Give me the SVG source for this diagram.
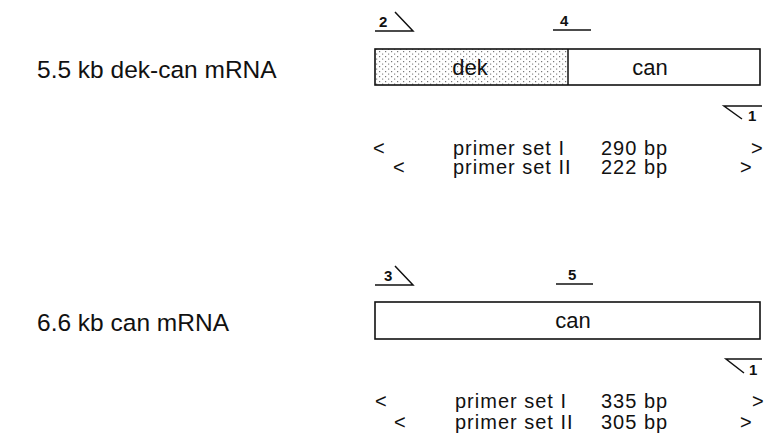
<svg xmlns="http://www.w3.org/2000/svg" width="765" height="434" viewBox="0 0 765 434">
  <style>
    text { font-family: "Liberation Sans", Arial, Helvetica, sans-serif; fill: #111; }
    .label { font-size: 24.5px; }
    .boxtxt { font-size: 22px; text-anchor: middle; }
    .row { font-size: 20px; letter-spacing: 1px; }
    .pnum { font-size: 15px; font-weight: bold; }
    .box { fill: #fff; stroke: #111; stroke-width: 1.6; }
    .ln { fill: none; stroke: #111; stroke-width: 1.5; }
  </style>
  <defs>
    <!-- stipple used for the dek segment -->
    <pattern id="stipple" width="6" height="5" patternUnits="userSpaceOnUse">
      <rect width="6" height="5" fill="#fff"/>
      <rect x="1" y="1" width="1.2" height="1.2" fill="#777"/>
      <rect x="4" y="3.5" width="1.2" height="1.2" fill="#888"/>
    </pattern>
  </defs>

  <!-- ===== 5.5 kb dek-can transcript ===== -->
  <g id="dekcan-title">
    <text class="label" x="37" y="78">5.5 kb dek-can mRNA</text>
  </g>

  <g id="primer-2">
    <path class="ln" d="M375 31 H413 L395 12"/>
    <text class="pnum" x="379" y="27">2</text>
  </g>

  <g id="primer-4">
    <path class="ln" d="M553 30 H591"/>
    <text class="pnum" x="560" y="26">4</text>
  </g>

  <g id="dekcan-mrna">
    <rect x="375" y="49" width="193" height="36" fill="url(#stipple)" stroke="none"/>
    <rect class="box" x="375" y="49" width="385" height="36" style="fill:none"/>
    <line class="ln" x1="568" y1="49" x2="568" y2="85"/>
    <text class="boxtxt" x="470" y="75">dek</text>
    <text class="boxtxt" x="650" y="75">can</text>
  </g>

  <g id="primer-1a">
    <path class="ln" d="M762 106 H724 L742 119"/>
    <text class="pnum" x="748" y="121">1</text>
  </g>

  <g id="dekcan-products">
    <text class="row" x="373" y="155">&lt;</text>
    <text class="row" x="453" y="155">primer set I</text>
    <text class="row" x="601" y="155">290 bp</text>
    <text class="row" x="751" y="155">&gt;</text>
    <text class="row" x="393" y="174">&lt;</text>
    <text class="row" x="453" y="174">primer set II</text>
    <text class="row" x="601" y="174">222 bp</text>
    <text class="row" x="740" y="174">&gt;</text>
  </g>

  <!-- ===== 6.6 kb can transcript ===== -->
  <g id="can-title">
    <text class="label" x="37" y="331">6.6 kb can mRNA</text>
  </g>

  <g id="primer-3">
    <path class="ln" d="M375 285 H413 L395 266"/>
    <text class="pnum" x="384" y="281">3</text>
  </g>

  <g id="primer-5">
    <path class="ln" d="M556 284 H593"/>
    <text class="pnum" x="568" y="280">5</text>
  </g>

  <g id="can-mrna">
    <rect class="box" x="375" y="302" width="385" height="37"/>
    <text class="boxtxt" x="573" y="328">can</text>
  </g>

  <g id="primer-1b">
    <path class="ln" d="M762 359 H726 L744 373"/>
    <text class="pnum" x="749" y="375">1</text>
  </g>

  <g id="can-products">
    <text class="row" x="375" y="408">&lt;</text>
    <text class="row" x="455" y="408">primer set I</text>
    <text class="row" x="601" y="408">335 bp</text>
    <text class="row" x="752" y="408">&gt;</text>
    <text class="row" x="394" y="429">&lt;</text>
    <text class="row" x="455" y="429">primer set II</text>
    <text class="row" x="601" y="429">305 bp</text>
    <text class="row" x="740" y="429">&gt;</text>
  </g>
</svg>
